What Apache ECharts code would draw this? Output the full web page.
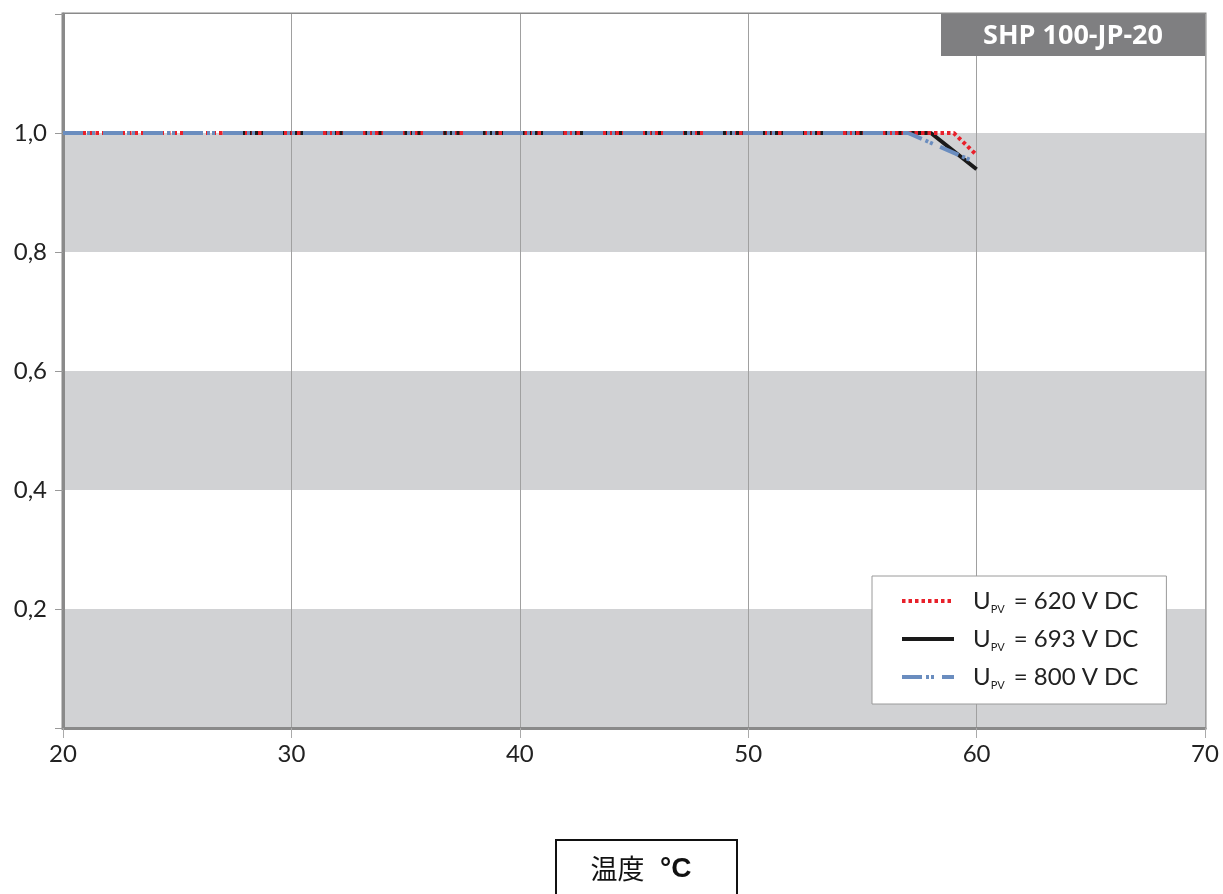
<!DOCTYPE html>
<html>
<head>
<meta charset="utf-8">
<script src="https://cdn.jsdelivr.net/npm/echarts@6/dist/echarts.min.js"></script>
<style>
html,body{margin:0;padding:0;background:#fff;}
#c{width:1223px;height:894px;}
</style>
</head>
<body>
<div id="c"></div>
<script>
// Data
const seriesNames = ['620 V DC', '693 V DC', '800 V DC'];
const temps620 = [20, 59, 60];
const vals620  = [1.0, 1.0, 0.963];
const temps693 = [27, 58, 60];
const vals693  = [1.0, 1.0, 0.939];
const temps800 = [20, 57, 60];
const vals800  = [1.0, 1.0, 0.95];
const xTicks = [20, 30, 40, 50, 60, 70];
const yTicks = [0.2, 0.4, 0.6, 0.8, 1.0];
const chartTitle = 'SHP 100-JP-20';
const xAxisNameWord = '温度';
const xAxisNameUnit = '°C';

function pairs(xs, ys){ return xs.map((x,i)=>[x, ys[i]]); }

const chart = echarts.init(document.getElementById('c'));
const font = 'Lato, "Noto Sans", sans-serif';
const option = {
  animation: false,
  backgroundColor: '#ffffff',
  grid: {left: 63, right: 18, top: 14, bottom: 166, show: true, borderColor: '#8a8a8a', borderWidth: 3, backgroundColor: 'transparent'},
  xAxis: {
    type: 'value', min: xTicks[0], max: xTicks[xTicks.length-1], interval: 10,
    axisLine: {show: true, lineStyle: {color: '#8a8a8a', width: 3}},
    axisTick: {show: true, length: 10, lineStyle: {color: '#aaaaaa', width: 1}},
    axisLabel: {color: '#222', fontSize: 24, fontFamily: font, margin: 14},
    splitLine: {show: true, lineStyle: {color: '#a0a0a0', width: 1}}
  },
  yAxis: {
    type: 'value', min: 0, max: 1.2, interval: 0.2,
    axisLine: {show: true, lineStyle: {color: '#8a8a8a', width: 3}},
    axisTick: {show: true, length: 8, lineStyle: {color: '#999', width: 1}},
    axisLabel: {color: '#222', fontSize: 24, fontFamily: font, margin: 16,
      formatter: function(v){
        const hit = yTicks.some(t => Math.abs(t - v) < 1e-6);
        return hit ? Number(v).toFixed(1).replace('.', ',') : '';
      }},
    splitLine: {show: false},
    splitArea: {show: true, areaStyle: {color: ['#d1d2d4', '#ffffff']}}
  },
  legend: {
    orient: 'vertical', left: 872, top: 576,
    backgroundColor: '#ffffff', borderColor: '#9a9a9a', borderWidth: 1,
    padding: [13, 28, 13, 28], itemGap: 12, itemWidth: 52, itemHeight: 18,
    itemStyle: {opacity: 0},
    lineStyle: {width: 4},
    data: seriesNames,
    formatter: function(name){ return '{u|U}{s|PV}{u| = ' + name + '}'; },
    textStyle: {
      color: '#222', fontFamily: font, fontSize: 24, padding: [0,0,0,14],
      rich: {
        u: {fontSize: 24, fontFamily: font, color: '#222', height: 28},
        s: {fontSize: 11, fontFamily: font, color: '#222', verticalAlign: 'bottom', padding: [12, 3, 0, 0]}
      }
    }
  },
  graphic: [
    {type: 'rect', x: 941, y: 14, shape: {width: 264, height: 42}, style: {fill: '#7f7f81'}, z: 100},
    {type: 'text', x: 1073, y: 36, z: 101,
      style: {text: chartTitle, fill: '#ffffff', font: 'bold 27px "Open Sans", sans-serif', textAlign: 'center', textVerticalAlign: 'middle'}},
    {type: 'rect', x: 556, y: 840, shape: {width: 181, height: 70}, style: {fill: '#ffffff', stroke: '#111', lineWidth: 2}, z: 100},
    {type: 'text', x: 641, y: 869, z: 101,
      style: {text: '{a|' + xAxisNameWord + '}{b|  ' + xAxisNameUnit + '}', textAlign: 'center', textVerticalAlign: 'middle',
        rich: {
          a: {fontSize: 27, fontFamily: '"Noto Sans CJK JP", sans-serif', fill: '#111'},
          b: {fontSize: 28, fontWeight: 'bold', fontFamily: '"Liberation Sans", Arial, sans-serif', fill: '#111'}
        }}}
  ],
  series: [
    {name: seriesNames[1], type: 'line', symbol: 'none', data: pairs(temps693, vals693),
      lineStyle: {color: '#1a1a1a', width: 4, type: 'solid'}, itemStyle: {color: '#1a1a1a'}, z: 2},
    {name: seriesNames[0], type: 'line', symbol: 'none', data: pairs(temps620, vals620),
      lineStyle: {color: '#e8202a', width: 4, type: [3.5, 3]}, itemStyle: {color: '#e8202a'}, z: 3},
    {name: seriesNames[2], type: 'line', symbol: 'none', data: pairs(temps800, vals800),
      lineStyle: {color: '#6a8dbf', width: 4, type: [20, 4, 3, 2, 3, 8]}, itemStyle: {color: '#6a8dbf'}, z: 4}
  ]
};
chart.setOption(option);
</script>
</body>
</html>
